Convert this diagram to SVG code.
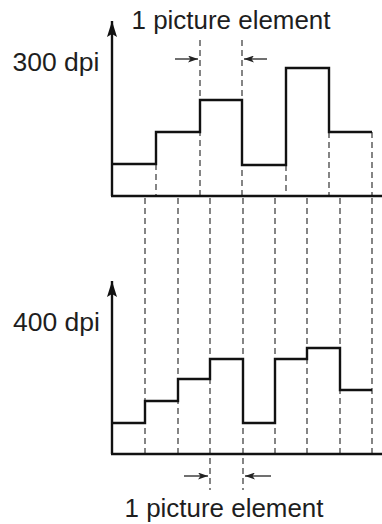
<svg xmlns="http://www.w3.org/2000/svg" width="382" height="524" viewBox="0 0 382 524">
  <style>
    .lbl { font-family: "Liberation Sans", Arial, Helvetica, sans-serif; font-size: 25px; fill: #1e1e1e; }
    .axis { stroke: #111; stroke-width: 2.4; fill: none; }
    .step { stroke: #111; stroke-width: 2.4; fill: none; stroke-linejoin: miter; }
    .dash { stroke: #222; stroke-width: 1.1; stroke-dasharray: 6 4; fill: none; }
    .ptr { stroke: #222; stroke-width: 1.3; fill: none; }
  </style>
  <defs>
    <marker id="axhead" viewBox="0 0 16 10" refX="16" refY="5" markerWidth="16" markerHeight="10" markerUnits="userSpaceOnUse" orient="auto">
      <path d="M0,0 L16,5 L0,10 L3,5 z" fill="#111"/>
    </marker>
    <marker id="ptrhead" viewBox="0 0 10 7" refX="10" refY="3.5" markerWidth="10" markerHeight="7" markerUnits="userSpaceOnUse" orient="auto">
      <path d="M0,0 L10,3.5 L0,7 L2.5,3.5 z" fill="#222"/>
    </marker>
  </defs>

  <g id="grid-lines">
    <path class="dash" d="M156,164 V196 M200,40 V196 M242,40 V196 M286,165 V196 M329,132 V196 M372,132 V196"/>
    <path class="dash" d="M145,198 V454 M178,198 V454 M210,198 V490 M243,198 V490 M275,198 V454 M307,198 V454 M340,198 V454 M372,198 V454"/>
  </g>

  <g id="graph-300dpi">
    <path class="axis" d="M112,196 V21" marker-end="url(#axhead)"/>
    <path class="axis" d="M111,196 H382"/>
    <path class="step" d="M112,164 H156 V132 H200 V100 H242 V165 H286 V68 H329 V132 H372"/>
    <text class="lbl" x="12.5" y="71" textLength="87" lengthAdjust="spacingAndGlyphs">300 dpi</text>
  </g>

  <g id="graph-400dpi">
    <path class="axis" d="M112,454 V281" marker-end="url(#axhead)"/>
    <path class="axis" d="M111,454 H382"/>
    <path class="step" d="M112,423 H145 V401 H178 V379 H210 V359 H243 V423 H275 V359 H307 V348 H340 V390 H372"/>
    <text class="lbl" x="13" y="331" textLength="87" lengthAdjust="spacingAndGlyphs">400 dpi</text>
  </g>

  <g id="label-top">
    <text class="lbl" x="131.5" y="29" textLength="199" lengthAdjust="spacingAndGlyphs">1 picture element</text>
  </g>
  <g id="label-bottom">
    <text class="lbl" x="124.5" y="517" textLength="199" lengthAdjust="spacingAndGlyphs">1 picture element</text>
  </g>

  <g id="connectors">
    <path class="ptr" d="M175,59 H198" marker-end="url(#ptrhead)"/>
    <path class="ptr" d="M267,59 H244" marker-end="url(#ptrhead)"/>
    <path class="ptr" d="M184,476 H208" marker-end="url(#ptrhead)"/>
    <path class="ptr" d="M271,476 H245" marker-end="url(#ptrhead)"/>
  </g>
</svg>
